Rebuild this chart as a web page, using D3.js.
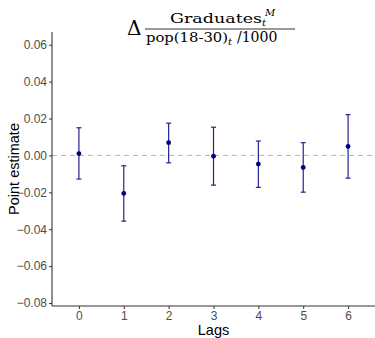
<!DOCTYPE html>
<html>
<head>
<meta charset="utf-8">
<script src="https://cdn.jsdelivr.net/npm/d3@7"></script>
<style>
  body { margin: 0; background: #fff; }
  svg { display: block; }
</style>
</head>
<body>
<div id="chart"></div>
<script>
// estimates
var lags = ["0", "1", "2", "3", "4", "5", "6"];
var estimates = [0.0010, -0.0206, 0.0069, -0.0004, -0.0047, -0.0065, 0.0049];
var lower = [-0.0128, -0.0356, -0.0040, -0.0161, -0.0173, -0.0199, -0.0123];
var upper = [0.0150, -0.0056, 0.0175, 0.0153, 0.0078, 0.0069, 0.0221];
var yTicks = [-0.08, -0.06, -0.04, -0.02, 0.00, 0.02, 0.04, 0.06];

var width = 375, height = 338;
var margin = { top: 32, right: 0, bottom: 32, left: 52 };

var svg = d3.select("#chart").append("svg")
  .attr("width", width)
  .attr("height", height);

var x = d3.scalePoint()
  .domain(lags)
  .range([margin.left, width - margin.right])
  .padding(0.6);

var y = d3.scaleLinear()
  .domain([-0.0816, 0.0669])
  .range([height - margin.bottom, margin.top]);

var rows = lags.map(function(l, i) {
  return { lag: l, est: estimates[i], lo: lower[i], hi: upper[i] };
});

// zero reference line
svg.append("line")
  .attr("x1", margin.left).attr("x2", width - margin.right)
  .attr("y1", y(0)).attr("y2", y(0))
  .attr("stroke", "#b3b3b3")
  .attr("stroke-width", 1)
  .attr("stroke-dasharray", "5,4");

// axes
var yAxis = svg.append("g")
  .attr("transform", "translate(" + margin.left + ",0)")
  .call(d3.axisLeft(y).tickValues(yTicks).tickFormat(d3.format(".2f")).tickSize(3).tickPadding(2));

var xAxis = svg.append("g")
  .attr("transform", "translate(0," + (height - margin.bottom) + ")")
  .call(d3.axisBottom(x).tickSize(3).tickPadding(2));

[xAxis, yAxis].forEach(function(g) {
  g.select(".domain").attr("stroke", "#333").attr("stroke-width", 1.1);
  g.selectAll(".tick line").attr("stroke", "#333");
  g.selectAll(".tick text")
    .attr("fill", "#4d4d4d")
    .style("font-family", "Liberation Sans, Arial, sans-serif")
    .style("font-size", "12px");
});
yAxis.select(".domain").attr("d", "M0," + margin.top + "V" + (height - margin.bottom));
xAxis.select(".domain").attr("d", "M" + margin.left + ",0H" + (width - margin.right));

// error bars
var bars = svg.append("g")
  .selectAll("g")
  .data(rows)
  .enter()
  .append("g");

bars.append("line")
  .attr("x1", d => x(d.lag)).attr("x2", d => x(d.lag))
  .attr("y1", d => y(d.lo)).attr("y2", d => y(d.hi))
  .attr("stroke", "#23238f")
  .attr("stroke-width", 1.2);

bars.selectAll(".cap")
  .data(d => [{ lag: d.lag, v: d.lo }, { lag: d.lag, v: d.hi }])
  .enter()
  .append("line")
  .attr("class", "cap")
  .attr("x1", d => x(d.lag) - 2.5).attr("x2", d => x(d.lag) + 2.5)
  .attr("y1", d => y(d.v)).attr("y2", d => y(d.v))
  .attr("stroke", "#23238f")
  .attr("stroke-width", 1.2);

bars.append("circle")
  .attr("cx", d => x(d.lag))
  .attr("cy", d => y(d.est))
  .attr("r", 2.4)
  .attr("fill", "#000080");

// axis titles
svg.append("text")
  .attr("x", (margin.left + width - margin.right) / 2)
  .attr("y", 335)
  .attr("text-anchor", "middle")
  .style("font-family", "Liberation Sans, Arial, sans-serif")
  .style("font-size", "14.5px")
  .text("Lags");

svg.append("text")
  .attr("transform", "translate(19," + ((margin.top + height - margin.bottom) / 2) + ") rotate(-90)")
  .attr("text-anchor", "middle")
  .style("font-family", "Liberation Sans, Arial, sans-serif")
  .style("font-size", "14.5px")
  .text("Point estimate");

// title: Δ Graduates_t^M / pop(18-30)_t/1000
var title = svg.append("g").style("font-family", "DejaVu Serif, Liberation Serif, serif");

title.append("text")
  .attr("x", 127).attr("y", 35)
  .style("font-size", "20px")
  .text("\u0394");

var num = title.append("text")
  .attr("x", 170).attr("y", 23)
  .style("font-size", "13px");
num.append("tspan").attr("textLength", 92).attr("lengthAdjust", "spacingAndGlyphs").text("Graduates");
num.append("tspan").attr("dy", 3).style("font-size", "10px").style("font-style", "italic").text("t");
num.append("tspan").attr("x", 265).attr("dy", -10).style("font-size", "10px").style("font-style", "italic").text("M");

title.append("line")
  .attr("x1", 145).attr("x2", 295)
  .attr("y1", 29).attr("y2", 29)
  .attr("stroke", "#000")
  .attr("stroke-width", 0.8);

var den = title.append("text")
  .attr("x", 146).attr("y", 42)
  .style("font-size", "13px");
den.append("tspan").attr("textLength", 82).attr("lengthAdjust", "spacingAndGlyphs").text("pop(18-30)");
den.append("tspan").attr("dy", 3).style("font-size", "10px").style("font-style", "italic").text("t");
den.append("tspan").attr("dy", -3).attr("x", 237).style("font-size", "14px").text("/1000");
</script>
</body>
</html>
